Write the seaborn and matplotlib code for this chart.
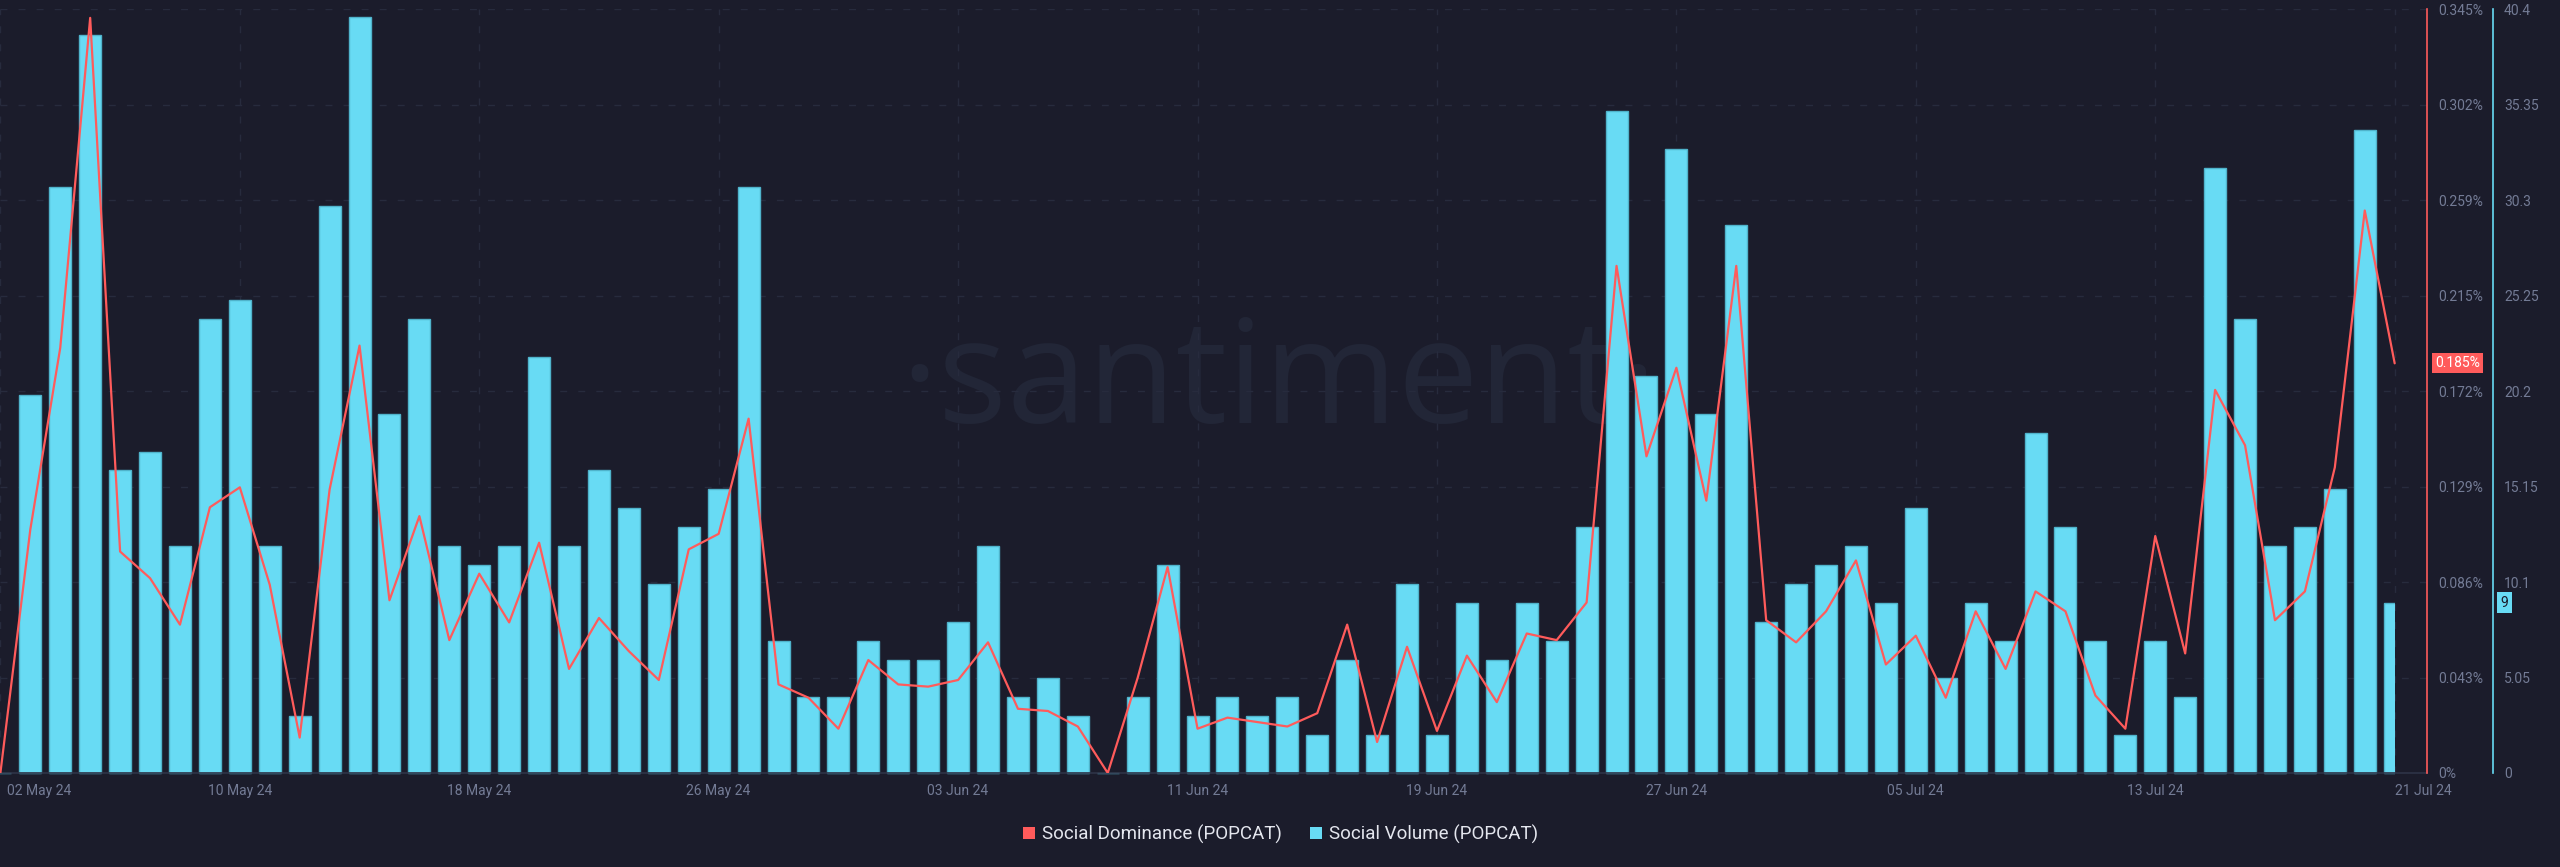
import numpy as np
import pandas as pd
import matplotlib
matplotlib.use("Agg")
import matplotlib.pyplot as plt
import seaborn as sns
from matplotlib.patches import Rectangle
from matplotlib.lines import Line2D
from matplotlib.transforms import ScaledTranslation

# ---------------- data ----------------
dates = pd.date_range("2024-05-02", "2024-07-21", freq="D").strftime("%Y-%m-%d").tolist()

social_volume = [
    0, 20, 31, 39, 16, 17, 12, 24, 25, 12, 3, 30, 40, 19,
    24, 12, 11, 12, 22, 12, 16, 14, 10, 13, 15, 31, 7,
    4, 4, 7, 6, 6, 8, 12, 4, 5, 3, 0, 4, 11, 3,
    4, 3, 4, 2, 6, 2, 10, 2, 9, 6, 9, 7, 13,
    35, 21, 33, 19, 29, 8, 10, 11, 12, 9, 14, 5, 9, 7,
    18, 13, 7, 2, 7, 4, 32, 24, 12, 13, 15, 34, 9,
]

social_dominance = [  # percent
    0.0, 0.110, 0.192, 0.341, 0.100, 0.088, 0.067, 0.120, 0.129, 0.085, 0.016, 0.128, 0.193, 0.078,
    0.116, 0.060, 0.090, 0.068, 0.104, 0.047, 0.070, 0.055, 0.042, 0.101, 0.108, 0.160, 0.040,
    0.034, 0.020, 0.051, 0.040, 0.039, 0.042, 0.059, 0.029, 0.028, 0.021, 0.0, 0.043, 0.093, 0.020,
    0.025, 0.023, 0.021, 0.027, 0.067, 0.014, 0.057, 0.019, 0.053, 0.032, 0.063, 0.060, 0.077,
    0.229, 0.143, 0.183, 0.123, 0.229, 0.069, 0.059, 0.073, 0.096, 0.049, 0.062, 0.034, 0.073, 0.047,
    0.082, 0.073, 0.035, 0.020, 0.107, 0.054, 0.173, 0.148, 0.069, 0.082, 0.138, 0.254, 0.185,
]

x_tick_labels = ["02 May 24", "10 May 24", "18 May 24", "26 May 24", "03 Jun 24", "11 Jun 24",
                 "19 Jun 24", "27 Jun 24", "05 Jul 24", "13 Jul 24", "21 Jul 24"]
dom_tick_labels = ["0%", "0.043%", "0.086%", "0.129%", "0.172%", "0.215%", "0.259%", "0.302%", "0.345%"]
vol_tick_labels = ["0", "5.05", "10.1", "15.15", "20.2", "25.25", "30.3", "35.35", "40.4"]
dom_max = 0.345
vol_max = 40.4

series_names = ["Social Dominance (POPCAT)", "Social Volume (POPCAT)"]

# ---------------- style ----------------
BG = "#1b1c2b"
CYAN = "#68dbf4"
RED = "#ff5b5b"
GRID = "#272b3d"
TICK = "#737b95"

sns.set_theme(style="dark", rc={"axes.facecolor": BG, "figure.facecolor": BG,
                                 "savefig.facecolor": BG})
plt.rcParams["font.family"] = ["Roboto", "DejaVu Sans"]

df = pd.DataFrame({"date": dates, "volume": social_volume, "dominance": social_dominance})
df["pos"] = np.arange(len(df))
n = len(df)

fig = plt.figure(figsize=(25.6, 8.67), dpi=100, facecolor=BG)
ax = fig.add_axes([0.0, 0.10842, 0.94805, 0.88119])
ax.set_facecolor(BG)

# watermark
ax.text(0.527, 0.458, "\u00b7santiment\u00b7", transform=ax.transAxes, ha="center", va="baseline",
        fontsize=104, family=["Open Sans", "DejaVu Sans"], color="#222637", zorder=0.2)

# bars
sns.barplot(data=df, x="date", y="volume", color=CYAN, width=0.735, saturation=1,
            edgecolor="#4fb3cb", linewidth=1, ax=ax, zorder=2)
clip = Rectangle((-1, -1), n, 1000, transform=ax.transData)
for p in ax.patches:
    p.set_clip_path(clip)

ax.set_xlabel("")
ax.set_ylabel("")

tick_pos = np.arange(0, n, 8)
ax.set_xticks(tick_pos)
ax.set_xticklabels(x_tick_labels)
ax.tick_params(axis="x", length=0, pad=8, labelcolor=TICK, labelsize=10)
ax.grid(True, axis="both", color=GRID, linestyle=(0, (5, 8)), linewidth=1)
ax.set_axisbelow(True)

labels = ax.get_xticklabels()
labels[0].set_horizontalalignment("left")
labels[0].set_transform(labels[0].get_transform() + ScaledTranslation(0.07, 0, fig.dpi_scale_trans))
labels[-1].set_horizontalalignment("left")

# line on twin axis
ax2 = ax.twinx()
sns.lineplot(x=df["pos"], y=df["dominance"], ax=ax2, color=RED, linewidth=1.6, zorder=3)
ax2.set_ylim(0, dom_max)
ax2.set_yticks(np.linspace(0, dom_max, len(dom_tick_labels)))
ax2.set_yticklabels(dom_tick_labels)
ax2.tick_params(axis="y", length=0, pad=8, labelcolor=TICK, labelsize=10)
ax2.grid(False)
ax2.set_ylabel("")
ax2.set_xlabel("")
for s in ["left", "top", "bottom"]:
    ax2.spines[s].set_visible(False)
ax2.spines["right"].set_color(RED)
ax2.spines["right"].set_linewidth(1.2)
ax2.spines["right"].set_visible(True)

# volume axis on the far right (after twinx, which moves ax ticks to the left)
ax.set_ylim(0, vol_max)
ax.yaxis.tick_right()
ax.yaxis.set_label_position("right")
ax.set_yticks(np.linspace(0, vol_max, len(vol_tick_labels)))
ax.set_yticklabels(vol_tick_labels)
ax.spines["right"].set_position(("axes", 2493 / 2427))
ax.spines["right"].set_color(CYAN)
ax.spines["right"].set_linewidth(1.2)
ax.spines["right"].set_visible(True)
ax.spines["left"].set_visible(False)
ax.spines["top"].set_visible(False)
ax.spines["bottom"].set_color("#2e3347")
ax.spines["bottom"].set_linewidth(1.2)
ax.tick_params(axis="y", length=0, pad=8, labelcolor=TICK, labelsize=10,
               left=False, labelleft=False, right=True, labelright=True)

ax.set_xlim(-0.013, 81.08)

# last-value badges
ax2.text(1.0033, social_dominance[-1], f"{social_dominance[-1]:.3f}%", transform=ax2.get_yaxis_transform(),
         ha="left", va="center", color="white", fontsize=10, zorder=5, clip_on=False,
         bbox=dict(boxstyle="square,pad=0.22", fc=RED, ec="none"))
ax.text(1.0303, social_volume[-1], f"{social_volume[-1]}", transform=ax.get_yaxis_transform(),
        ha="left", va="center", color=BG, fontsize=10, zorder=5, clip_on=False,
        bbox=dict(boxstyle="square,pad=0.25", fc=CYAN, ec="none"))

# legend
handles = [
    Line2D([0], [0], marker="s", linestyle="none", markersize=8.6, markerfacecolor=RED,
           markeredgewidth=0, label=series_names[0]),
    Line2D([0], [0], marker="s", linestyle="none", markersize=8.6, markerfacecolor=CYAN,
           markeredgewidth=0, label=series_names[1]),
]
fig.legend(handles=handles, loc="center", bbox_to_anchor=(0.5, 0.038), ncol=2, frameon=False,
           fontsize=13.5, labelcolor="#e4e6ee", handletextpad=0.3, columnspacing=1.4,
           handlelength=0.8)

fig.savefig("out.png", dpi=100, facecolor=BG)
